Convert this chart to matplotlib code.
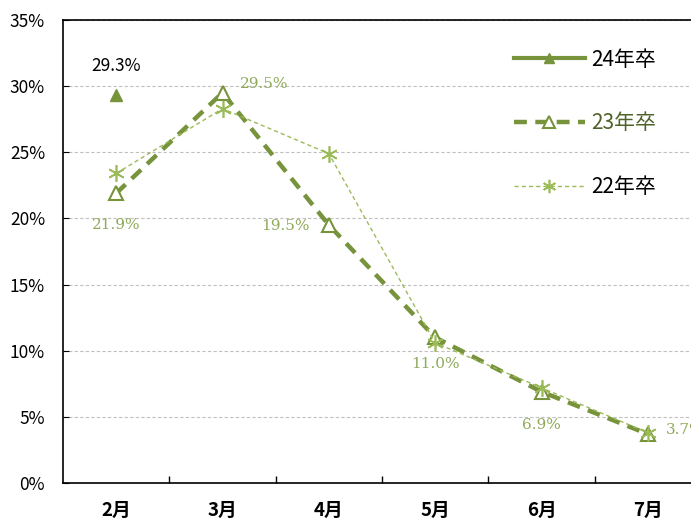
import matplotlib
matplotlib.use("Agg")
import matplotlib.pyplot as plt
from matplotlib.ticker import FuncFormatter, FixedLocator
import numpy as np

plt.rcParams['font.family'] = ['Noto Sans CJK JP', 'DejaVu Sans']

months = ['2月', '3月', '4月', '5月', '6月', '7月']
y24 = [29.3]
y23 = [21.9, 29.5, 19.5, 11.0, 6.9, 3.7]
y22 = [23.4, 28.3, 24.9, 10.6, 7.2, 3.8]
labels23 = ['21.9%', '29.5%', '19.5%', '11.0%', '6.9%', '3.7%']
label24 = '29.3%'

dark = '#77933c'
light = '#9bbb59'
lblc = '#8faa5a'

fig = plt.figure(figsize=(6.91, 5.22), dpi=100)
ax = fig.add_axes([63/691, 39/522, 638/691, 463/522])

x = np.arange(len(months))

ax.plot(x[:len(y24)], y24, color=dark, lw=3, marker='^', ms=9,
        markerfacecolor=dark, markeredgecolor=dark, label='24年卒')
ax.plot(x, y23, color=dark, lw=3.2, dashes=(2.9, 1.9), marker='^', ms=10,
        markerfacecolor='white', markeredgecolor=dark, markeredgewidth=1.5,
        label='23年卒')
ax.plot(x, y22, color=light, lw=1, dashes=(3, 2.2), marker=(6, 2, 0), ms=12,
        markeredgecolor=light, markeredgewidth=1.2, label='22年卒')

# data labels
offs = [(0, -23), (30, 6), (-31, -1), (0, -19), (0, -24), (27, 3)]
for i, (v, t) in enumerate(zip(y23, labels23)):
    ax.annotate(t, (x[i], v), xytext=offs[i], textcoords='offset points',
                ha='center', va='center', color=lblc, fontsize=11,
                family='DejaVu Serif')
ax.annotate(label24, (x[0], y24[0]), xytext=(0, 21), textcoords='offset points',
            ha='center', va='center', color='black', fontsize=12.5)

ax.set_xlim(-0.5, 5.5)
ax.set_ylim(0, 35)
ax.set_yticks(np.arange(0, 36, 5))
ax.yaxis.set_major_formatter(FuncFormatter(lambda v, p: '%d%%' % v))
ax.set_xticks(x)
ax.set_xticklabels(months, fontsize=13.5, fontweight='bold')
ax.xaxis.set_minor_locator(FixedLocator(x[:-1] + 0.5))
ax.tick_params(axis='x', which='major', length=0, pad=13)
ax.tick_params(axis='x', which='minor', direction='in', length=5, width=1)
ax.tick_params(axis='y', direction='in', length=4, labelsize=12.5, pad=13)

ax.grid(axis='y', color='#c0c0c0', ls=(0, (3, 2)), lw=0.8)
ax.set_axisbelow(True)
for s in ax.spines.values():
    s.set_linewidth(1.2)

leg = ax.legend(loc='upper left', bbox_to_anchor=(495/691, 1 - 30/522),
                bbox_transform=fig.transFigure, frameon=False, fontsize=15,
                handlelength=3.4, labelspacing=2.0, handletextpad=0.3,
                markerscale=0.8)
leg.get_texts()[1].set_color('#4f6228')

fig.savefig('out.png', dpi=100)
